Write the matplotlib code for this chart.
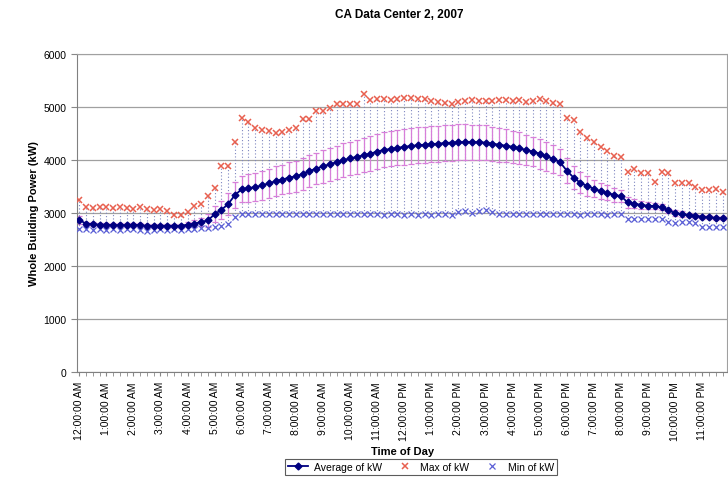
import numpy as np
import matplotlib
matplotlib.use('Agg')
import matplotlib.pyplot as plt

plt.rcParams['font.family'] = ['Liberation Sans', 'DejaVu Sans']

# 15-minute readings over one day (96 points)
avg_kw = [2870, 2800, 2790, 2780, 2780, 2770, 2770, 2770, 2780, 2770, 2760, 2760, 2760, 2760, 2760, 2760,
          2780, 2800, 2830, 2860, 2980, 3060, 3170, 3340, 3450, 3470, 3490, 3520, 3560, 3600, 3630, 3670,
          3690, 3740, 3790, 3840, 3880, 3920, 3960, 4000, 4030, 4060, 4090, 4120, 4160, 4190, 4210, 4230,
          4250, 4265, 4280, 4290, 4300, 4310, 4320, 4330, 4335, 4340, 4340, 4335, 4330, 4310, 4290, 4270,
          4250, 4220, 4190, 4160, 4120, 4070, 4020, 3960, 3800, 3670, 3570, 3510, 3460, 3410, 3380, 3340,
          3320, 3200, 3180, 3150, 3140, 3130, 3110, 3050, 3000, 2980, 2960, 2950, 2930, 2920, 2910, 2900]

max_kw = [3250, 3110, 3090, 3120, 3110, 3100, 3110, 3100, 3080, 3110, 3070, 3060, 3070, 3040, 2970, 2960,
          3020, 3130, 3170, 3320, 3470, 3890, 3890, 4340, 4790, 4720, 4600, 4560, 4550, 4510, 4530, 4570,
          4600, 4770, 4770, 4920, 4920, 4980, 5060, 5060, 5060, 5060, 5250, 5140, 5150, 5150, 5140, 5160,
          5170, 5170, 5160, 5150, 5120, 5100, 5080, 5060, 5100, 5120, 5130, 5120, 5120, 5120, 5130, 5140,
          5120, 5130, 5100, 5110, 5150, 5120, 5080, 5060, 4790, 4760, 4530, 4420, 4340, 4250, 4170, 4080,
          4060, 3770, 3830, 3750, 3750, 3590, 3770, 3760, 3560, 3570, 3560, 3500, 3430, 3430, 3460, 3400]

min_kw = [2700, 2690, 2680, 2690, 2680, 2690, 2680, 2690, 2700, 2680, 2670, 2680, 2690, 2680, 2690, 2680,
          2690, 2700, 2720, 2720, 2740, 2760, 2800, 2920, 2980, 2990, 2990, 2980, 2990, 2980, 2990, 2980,
          2980, 2990, 2980, 2980, 2990, 2980, 2980, 2990, 2980, 2980, 2990, 2980, 2980, 2970, 2980, 2980,
          2970, 2980, 2970, 2980, 2970, 2980, 2980, 2970, 3020, 3040, 3010, 3030, 3050, 3020, 2990, 2980,
          2980, 2990, 2980, 2980, 2990, 2980, 2980, 2990, 2980, 2980, 2970, 2980, 2990, 2980, 2970, 2980,
          2980, 2890, 2890, 2880, 2890, 2890, 2880, 2830, 2820, 2830, 2830, 2820, 2740, 2740, 2730, 2740]

std_kw = [70, 40, 40, 40, 40, 40, 40, 40, 40, 40, 40, 40, 40, 40, 40, 40,
          50, 60, 80, 120, 150, 170, 200, 240, 250, 260, 270, 270, 280, 280, 280, 290,
          290, 300, 300, 300, 310, 310, 310, 320, 320, 320, 320, 330, 330, 330, 330, 330,
          340, 340, 340, 340, 340, 340, 340, 340, 340, 340, 330, 330, 330, 320, 320, 310,
          300, 300, 290, 280, 280, 270, 260, 250, 240, 220, 200, 180, 160, 150, 140, 130,
          110, 100, 90, 80, 70, 60, 60, 50, 50, 50, 40, 40, 40, 40, 40, 40]

hour_labels = ['12:00:00 AM', '1:00:00 AM', '2:00:00 AM', '3:00:00 AM', '4:00:00 AM', '5:00:00 AM',
               '6:00:00 AM', '7:00:00 AM', '8:00:00 AM', '9:00:00 AM', '10:00:00 AM', '11:00:00 AM',
               '12:00:00 PM', '1:00:00 PM', '2:00:00 PM', '3:00:00 PM', '4:00:00 PM', '5:00:00 PM',
               '6:00:00 PM', '7:00:00 PM', '8:00:00 PM', '9:00:00 PM', '10:00:00 PM', '11:00:00 PM']

x = np.arange(len(avg_kw))

fig = plt.figure(figsize=(7.28, 4.81), dpi=100)
ax = fig.add_axes([0.106, 0.2245, 0.893, 0.661])

# high-low dotted lines
ax.vlines(x, min_kw, max_kw, colors='#7f86c0', linestyles=(0, (1, 2)), linewidth=0.8, zorder=1)

# std deviation bars
ax.errorbar(x, avg_kw, yerr=std_kw, fmt='none', ecolor='#d77fd9', elinewidth=0.9,
            capsize=2.5, capthick=0.9, zorder=2)

ax.plot(x, avg_kw, color='#000080', marker='D', markersize=3.5, linewidth=1.3,
        label='Average of kW', zorder=4)
ax.plot(x, max_kw, linestyle='none', marker='x', markersize=5, markeredgewidth=1.1,
        color='#e8604f', label='Max of kW', zorder=3)
ax.plot(x, min_kw, linestyle='none', marker='x', markersize=5, markeredgewidth=0.9,
        color='#5b5fd6', label='Min of kW', zorder=3)

ax.set_xlim(-0.3, 95.7)
ax.set_ylim(0, 6000)
ax.set_yticks(range(0, 6001, 1000))
ax.set_xticks(x[::4])
ax.set_xticklabels(hour_labels, rotation=90, fontsize=7.5)
ax.set_xticks(x, minor=True)
ax.tick_params(axis='y', labelsize=7.5, length=4, color='#888888')
ax.tick_params(axis='x', which='both', length=3, color='#888888')

ax.grid(axis='y', color='#a0a0a0', linewidth=0.9)
ax.set_axisbelow(True)
for side in ['top', 'right']:
    ax.spines[side].set_color('#a0a0a0')
for side in ['left', 'bottom']:
    ax.spines[side].set_color('#808080')

ax.set_ylabel('Whole Building Power (kW)', fontsize=8, fontweight='bold', labelpad=3)
ax.set_xlabel('Time of Day', fontsize=8, fontweight='bold', labelpad=4)
fig.text(0.548, 0.968, 'CA Data Center 2, 2007', ha='center', va='center',
         fontsize=8.5, fontweight='bold')

leg = fig.legend(loc='center', bbox_to_anchor=(0.578, 0.027), ncol=3, fontsize=7.5,
                 frameon=True, fancybox=False, edgecolor='#333333', handlelength=2.0,
                 columnspacing=1.2, handletextpad=0.5, borderpad=0.3)
leg.get_frame().set_linewidth(0.8)

fig.savefig('out.png', dpi=100)
